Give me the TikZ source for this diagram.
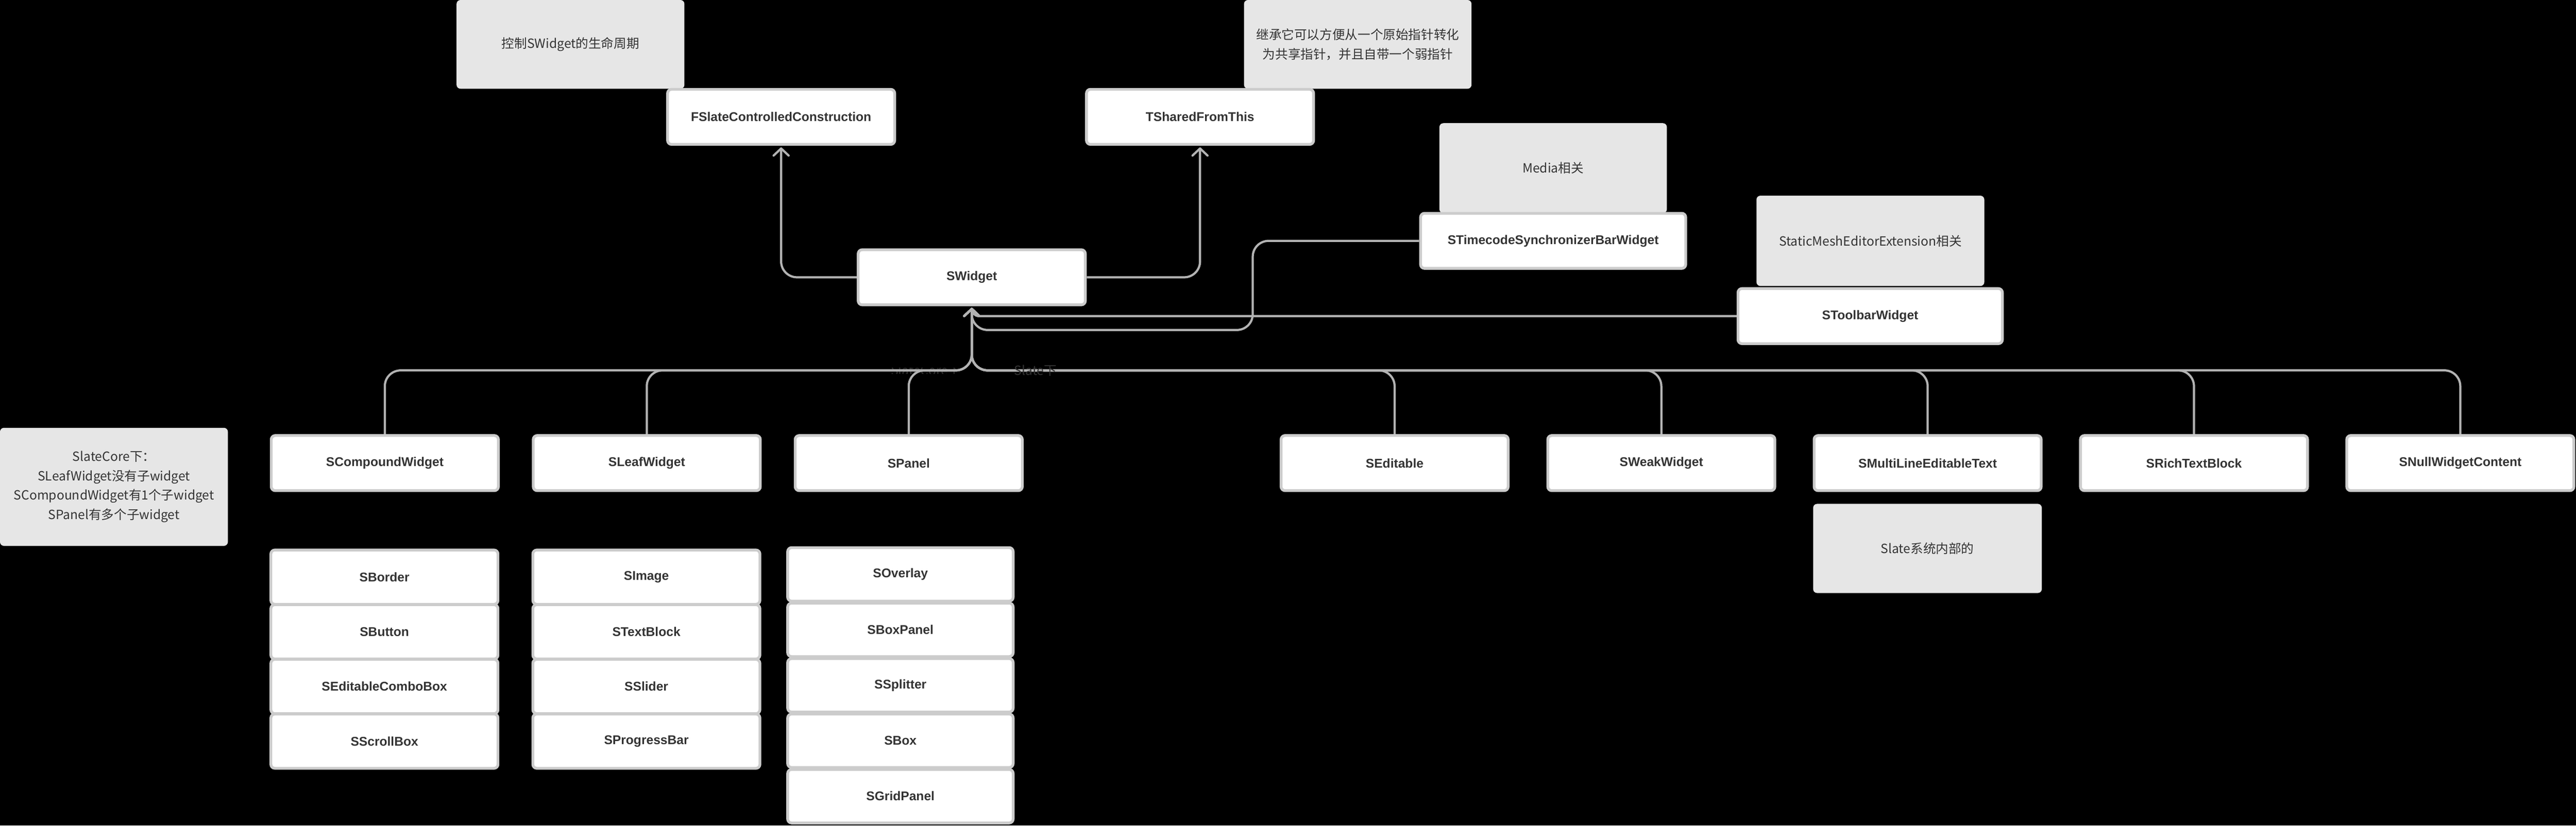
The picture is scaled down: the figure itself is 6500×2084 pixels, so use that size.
\documentclass[tikz,border=0pt]{standalone}
\usepackage{fontspec}
\setmainfont{Liberation Sans}
\newfontfamily\cjk{Noto Sans CJK SC}
\usetikzlibrary{arrows.meta}
\definecolor{bordergray}{HTML}{CCCCCC}
\definecolor{linegray}{HTML}{B3B3B3}
\definecolor{notefill}{HTML}{E6E6E6}
\definecolor{textdark}{HTML}{333333}
\begin{document}
\begin{tikzpicture}[x=0.5pt,y=-0.5pt,
  cls/.style={draw=bordergray, line width=3.5pt, fill=white, rounded corners=5pt, inner sep=0pt,
    text=textdark, font=\fontsize{16pt}{19pt}\selectfont\bfseries,
    minimum width=286.5pt, minimum height=69.5pt},
  colbox/.style={cls, minimum height=68.5pt},
  colbox3/.style={cls, minimum width=284.5pt, minimum height=67.5pt},
  note/.style={fill=notefill, rounded corners=5pt, inner sep=0pt, text=textdark,
    font=\cjk\fontsize{16pt}{24.5pt}\selectfont, align=center},
  conn/.style={draw=linegray, line width=2.75pt, rounded corners=20pt,
    -{Straight Barb[length=9pt,width=19pt,round]}, shorten >=2pt},
  lbl/.style={text=textdark, font=\cjk\fontsize{16pt}{19pt}\selectfont, inner sep=0pt}
]
\useasboundingbox (0,0) rectangle (6500,2084);
\fill[black] (0,0) rectangle (6500,2084);

% notes
\node[note, minimum width=287.5pt, minimum height=112pt] (n1) at (1439.5,112) {控制SWidget的生命周期};
\node[note, minimum width=287pt, minimum height=112pt] (n2) at (3426,112) {继承它可以方便从一个原始指针转化\\为共享指针，并且自带一个弱指针};
\node[note, minimum width=287pt, minimum height=113.5pt] (n3) at (3919,424.5) {Media相关};
\node[note, minimum width=287.5pt, minimum height=114pt] (n4) at (4719.5,608) {StaticMeshEditorExtension相关};
\node[note, minimum width=287.5pt, minimum height=149pt] (n5) at (287.5,1229) {SlateCore下：\\SLeafWidget没有子widget\\SCompoundWidget有1个子widget\\SPanel有多个子widget};
\node[note, minimum width=288.5pt, minimum height=112.5pt] (n6) at (4863.5,1384.5) {Slate系统内部的};

% top boxes
\node[cls] (fscc) at (1971,295) {FSlateControlledConstruction};
\node[cls] (tsft) at (3028,295) {TSharedFromThis};
\node[cls] (sw) at (2452,700) {SWidget};
\node[cls, minimum width=334.5pt] (tc) at (3919,608) {STimecodeSynchronizerBarWidget};
\node[cls, minimum width=333.5pt] (tb) at (4719,798) {SToolbarWidget};

% main row
\node[cls] (scw) at (971,1169) {SCompoundWidget};
\node[cls] (slw) at (1632,1169) {SLeafWidget};
\node[cls] (spn) at (2293,1169) {SPanel};
\node[cls] (sed) at (3519,1169) {SEditable};
\node[cls] (swk) at (4192,1169) {SWeakWidget};
\node[cls] (sml) at (4864,1169) {SMultiLineEditableText};
\node[cls] (srt) at (5536,1169) {SRichTextBlock};
\node[cls] (snw) at (6208,1169) {SNullWidgetContent};

% column 1
\node[colbox] (c1a) at (970,1457) {SBorder};
\node[colbox] (c1b) at (970,1595) {SButton};
\node[colbox] (c1c) at (970,1733) {SEditableComboBox};
\node[colbox] (c1d) at (970,1871) {SScrollBox};
% column 2
\node[colbox] (c2a) at (1631,1457) {SImage};
\node[colbox] (c2b) at (1631,1595) {STextBlock};
\node[colbox] (c2c) at (1631,1733) {SSlider};
\node[colbox] (c2d) at (1631,1871) {SProgressBar};
% column 3
\node[colbox3] (c3a) at (2272,1450) {SOverlay};
\node[colbox3] (c3b) at (2272,1590) {SBoxPanel};
\node[colbox3] (c3c) at (2272,1730) {SSplitter};
\node[colbox3] (c3d) at (2272,1870) {SBox};
\node[colbox3] (c3e) at (2272,2010) {SGridPanel};

% partially hidden label
\begin{scope}
  \clip (2230,929) rectangle (2450,943);
  \node[lbl] (l1) at (2336,935) {SlateCore下};
\end{scope}

% connectors
\coordinate (bus) at (2452,935);
\coordinate (tbj) at (2452,798);
\coordinate (tcd) at (3161,833);
\draw[conn] (sw.west) -| (fscc.south);
\draw[conn] (sw.east) -| (tsft.south);
\draw[conn] (tc.west) -| (tcd) -- (tcd -| sw.south) -- (sw.south);
\draw[conn, rounded corners=9pt] (tb.west) -- (tbj) -- (sw.south);
\foreach \c in {scw,slw,spn,sed,swk,sml,srt,snw}{
  \draw[conn] (\c.north) |- (bus) -- (sw.south);
}

\node[lbl] (l2) at (2613,935) {Slate下};
\end{tikzpicture}
\end{document}
